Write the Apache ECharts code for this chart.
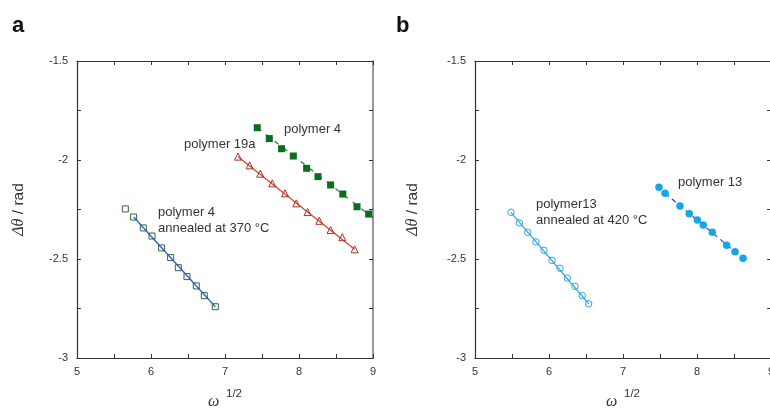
<!DOCTYPE html>
<html>
<head>
<meta charset="utf-8">
<script src="https://cdn.jsdelivr.net/npm/echarts@6/dist/echarts.min.js"></script>
<style>
  html, body { margin: 0; padding: 0; background: #fff; }
  #chart { width: 770px; height: 409px; }
</style>
</head>
<body>
<div id="chart"></div>
<script>
// Phase shift vs. square root of frequency for two polymer families.

// Panel a: polymer 4 annealed at 370 °C (open squares)
const p4AnnealedX = [5.653, 5.765, 5.896, 6.014, 6.143, 6.265, 6.369, 6.486, 6.612, 6.720, 6.869];
const p4AnnealedY = [-2.247, -2.288, -2.343, -2.384, -2.444, -2.493, -2.544, -2.589, -2.636, -2.685, -2.741];
const p4AnnealedFit = [[5.765, -2.288], [6.869, -2.741]];

// Panel a: polymer 19a (open triangles)
const p19aX = [7.176, 7.332, 7.477, 7.639, 7.811, 7.964, 8.116, 8.274, 8.427, 8.585, 8.751];
const p19aY = [-1.983, -2.027, -2.069, -2.118, -2.168, -2.219, -2.263, -2.307, -2.354, -2.390, -2.451];
const p19aFit = [[7.176, -1.983], [8.751, -2.451]];

// Panel a: polymer 4 (filled squares)
const p4X = [7.436, 7.599, 7.765, 7.923, 8.103, 8.257, 8.427, 8.592, 8.784, 8.941];
const p4Y = [-1.837, -1.892, -1.943, -1.980, -2.042, -2.084, -2.126, -2.172, -2.236, -2.273];
const p4Fit = [[7.436, -1.837], [9.0, -2.292]];

// Panel b: polymer13 annealed at 420 °C (open circles)
const p13AnnealedX = [5.486, 5.599, 5.712, 5.824, 5.932, 6.041, 6.149, 6.247, 6.351, 6.450, 6.536];
const p13AnnealedY = [-2.264, -2.318, -2.365, -2.414, -2.456, -2.507, -2.547, -2.596, -2.638, -2.685, -2.726];
const p13AnnealedFit = [[5.486, -2.264], [6.536, -2.726]];

// Panel b: polymer 13 (filled circles)
const p13X = [7.486, 7.568, 7.770, 7.896, 8.004, 8.085, 8.207, 8.401, 8.514, 8.622];
const p13Y = [-2.138, -2.168, -2.232, -2.271, -2.303, -2.328, -2.365, -2.431, -2.463, -2.496];
const p13Fit = [[7.568, -2.168], [8.600, -2.490]];

// Axis ranges and tick labels
const xRange = [5, 9];
const yRange = [-3, -1.5];
const xTicks = ['5', '6', '7', '8', '9'];
const yTicks = ['-3', '-2.5', '-2', '-1.5'];

const pairs = (xs, ys) => xs.map((x, i) => [x, ys[i]]);

const SANS = '"Liberation Sans", Arial, Helvetica, sans-serif';
const SERIF = '"Liberation Serif", "DejaVu Serif", serif';
const INK = '#333';

function bottomAxis(grid) {
  return {
    type: 'value', gridIndex: grid, position: 'bottom',
    min: xRange[0], max: xRange[1], interval: 1,
    axisLine: { show: true, lineStyle: { color: INK, width: 1.2 } },
    axisTick: { show: true, inside: true, length: 4, lineStyle: { color: INK } },
    minorTick: { show: true, splitNumber: 2, length: 4, lineStyle: { color: INK } },
    splitLine: { show: false },
    axisLabel: {
      margin: 8, fontSize: 11, color: INK, fontFamily: SANS,
      formatter: v => xTicks[Math.round(v - xRange[0])]
    },
    name: '{w|ω}  {s|1/2}',
    nameLocation: 'middle', nameGap: 30,
    nameTextStyle: {
      color: INK,
      rich: {
        w: { fontFamily: SERIF, fontStyle: 'italic', fontSize: 16, color: INK, lineHeight: 22, verticalAlign: 'bottom' },
        s: { fontFamily: SANS, fontSize: 11.5, color: INK, lineHeight: 22, verticalAlign: 'top' }
      }
    }
  };
}

function topAxis(grid, lineColor, lineWidth) {
  return {
    type: 'value', gridIndex: grid, position: 'top',
    min: xRange[0], max: xRange[1], interval: 1,
    axisLine: { show: true, lineStyle: { color: lineColor, width: lineWidth } },
    axisTick: { show: true, inside: true, length: 4, lineStyle: { color: INK } },
    minorTick: { show: true, splitNumber: 2, length: 4, lineStyle: { color: INK } },
    splitLine: { show: false },
    axisLabel: { show: false }
  };
}

function leftAxis(grid, gap) {
  return {
    type: 'value', gridIndex: grid, position: 'left',
    min: yRange[0], max: yRange[1], interval: 0.5,
    axisLine: { show: true, lineStyle: { color: INK, width: 1.2 } },
    axisTick: { show: true, inside: true, length: 4, lineStyle: { color: INK } },
    minorTick: { show: true, splitNumber: 2, length: 4, lineStyle: { color: INK } },
    splitLine: { show: false },
    axisLabel: {
      margin: 9, fontSize: 11, color: INK, fontFamily: SANS,
      formatter: v => yTicks[Math.round((v - yRange[0]) / 0.5)]
    },
    name: '{t|Δθ} / rad',
    nameLocation: 'middle', nameGap: gap, nameRotate: 90,
    nameTextStyle: {
      fontFamily: SANS, fontSize: 15.5, color: INK,
      rich: { t: { fontFamily: SERIF, fontStyle: 'italic', fontSize: 16, color: INK } }
    }
  };
}

function rightAxis(grid, lineColor, lineWidth) {
  return {
    type: 'value', gridIndex: grid, position: 'right',
    min: yRange[0], max: yRange[1], interval: 0.5,
    axisLine: { show: true, lineStyle: { color: lineColor, width: lineWidth } },
    axisTick: { show: true, inside: true, length: 4, lineStyle: { color: INK } },
    minorTick: { show: true, splitNumber: 2, length: 4, lineStyle: { color: INK } },
    splitLine: { show: false },
    axisLabel: { show: false }
  };
}

function fitLine(data, xi, yi, color, type, width) {
  return {
    type: 'line', data, xAxisIndex: xi, yAxisIndex: yi,
    symbol: 'none', silent: true, z: 1, clip: true,
    lineStyle: { color, type, width }
  };
}

function markers(data, xi, yi, symbol, size, fill, border, borderWidth) {
  return {
    type: 'scatter', data, xAxisIndex: xi, yAxisIndex: yi,
    symbol, symbolSize: size, z: 3,
    itemStyle: { color: fill, borderColor: border, borderWidth, opacity: 1 }
  };
}

function label(text, x, y) {
  return {
    type: 'text', left: x, top: y, z: 10,
    style: { text, fill: INK, font: '13px ' + SANS, lineHeight: 16 }
  };
}

const chart = echarts.init(document.getElementById('chart'), null, { renderer: 'canvas' });

chart.setOption({
  backgroundColor: '#fff',
  animation: false,
  grid: [
    { left: 77, top: 61, width: 296, height: 297, containLabel: false, outerBoundsMode: 'none' },
    { left: 475, top: 61, width: 296, height: 297, containLabel: false, outerBoundsMode: 'none' }
  ],
  xAxis: [bottomAxis(0), topAxis(0, INK, 1), bottomAxis(1), topAxis(1, INK, 1)],
  yAxis: [leftAxis(0, 50), rightAxis(0, '#999', 2), leftAxis(1, 54), rightAxis(1, '#999', 2)],
  series: [
    fitLine(p4AnnealedFit, 0, 0, '#2f57e8', 'solid', 1.3),
    markers(pairs(p4AnnealedX, p4AnnealedY), 0, 0, 'rect', 6, 'rgba(255,255,255,0)', '#2f6b3a', 1),

    fitLine(p19aFit, 0, 0, '#d9452e', 'solid', 1.3),
    markers(pairs(p19aX, p19aY), 0, 0, 'triangle', 7, 'rgba(255,255,255,0)', '#a3302a', 1),

    fitLine(p4Fit, 0, 0, '#1f7a2e', [5, 6], 1.2),
    markers(pairs(p4X, p4Y), 0, 0, 'rect', 7, '#0b6b1e', '#0b6b1e', 0),

    fitLine(p13AnnealedFit, 2, 2, '#2aa8e2', 'solid', 1.2),
    markers(pairs(p13AnnealedX, p13AnnealedY), 2, 2, 'circle', 6.5, 'rgba(255,255,255,0)', '#2aa8e2', 1),

    fitLine(p13Fit, 2, 2, '#2b3fd6', [5, 4], 1.2),
    markers(pairs(p13X, p13Y), 2, 2, 'circle', 7.5, '#17a5e3', '#17a5e3', 0)
  ],
  graphic: [
    { type: 'text', left: 12, top: 15, style: { text: 'a', fill: '#111', font: 'bold 22px ' + SANS } },
    { type: 'text', left: 396, top: 15, style: { text: 'b', fill: '#111', font: 'bold 22px ' + SANS } },
    label('polymer 4', 284, 121),
    label('polymer 19a', 184, 136),
    label('polymer 4\nannealed at 370 °C', 158, 204),
    label('polymer 13', 678, 174),
    label('polymer13\nannealed at 420 °C', 536, 196)
  ]
});
</script>
</body>
</html>
